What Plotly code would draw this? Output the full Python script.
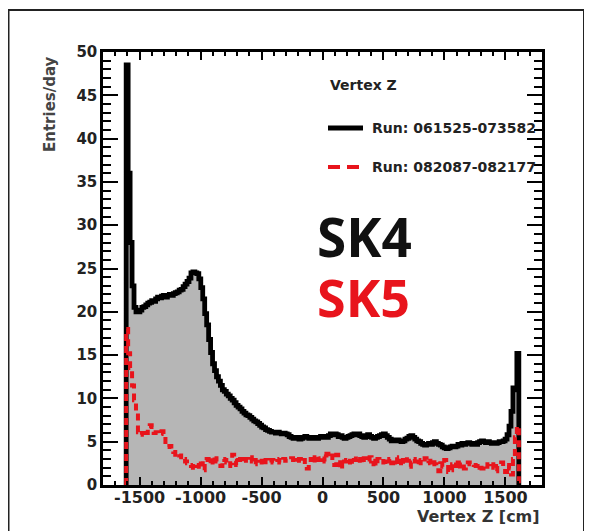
import numpy as np
import plotly.graph_objects as go

# ---------------- data ----------------
Z_MIN = -1610.0
Z_MAX = 1610.0
N_BINS = 200

# SK4 (Run: 061525-073582), entries/day per bin
sk4_values = [
    48.5, 36.0, 28.0, 23.0, 20.5, 20.0, 20.0, 20.2, 20.5, 20.6,
    20.8, 21.0, 21.1, 21.3, 21.2, 21.5, 21.7, 21.6, 21.8, 21.9,
    21.7, 21.9, 22.0, 21.9, 22.1, 22.2, 22.3, 22.5, 22.6, 22.9,
    23.2, 23.5, 23.9, 24.5, 24.6, 24.5, 24.4, 23.8, 22.8, 21.5,
    19.8, 18.5, 16.8, 15.3, 14.0, 13.2, 12.5, 12.0, 11.5, 11.0,
    10.8, 10.5, 10.3, 10.0, 9.8, 9.5, 9.2, 9.0, 8.8, 8.5,
    8.3, 8.1, 8.0, 7.8, 7.6, 7.4, 7.3, 7.1, 6.9, 6.7,
    6.6, 6.4, 6.3, 6.2, 6.1, 6.1, 6.0, 6.1, 6.0, 5.9,
    6.0, 5.9, 5.8, 5.6, 5.5, 5.4, 5.4, 5.5, 5.3, 5.4,
    5.5, 5.6, 5.5, 5.4, 5.5, 5.4, 5.5, 5.4, 5.5, 5.6,
    5.5, 5.6, 5.5, 5.7, 5.9, 5.8, 5.9, 5.8, 5.6, 5.7,
    5.5, 5.4, 5.5, 5.6, 5.7, 5.8, 5.9, 5.8, 5.9, 5.7,
    5.6, 5.5, 5.7, 5.8, 5.6, 5.5, 5.4, 5.5, 5.6, 5.7,
    5.8, 5.9, 5.7, 5.5, 5.3, 5.1, 5.2, 5.1, 5.2, 5.1,
    5.0, 5.1, 5.3, 5.4, 5.6, 5.7, 5.5, 5.3, 5.1, 5.0,
    4.8, 4.7, 4.6, 4.7, 4.8, 4.7, 4.9, 5.0, 4.8, 4.7,
    4.6, 4.4, 4.3, 4.2, 4.3, 4.4, 4.5, 4.4, 4.5, 4.7,
    4.6, 4.8, 4.7, 4.8, 4.9, 4.8, 4.7, 4.8, 4.7, 4.9,
    5.0, 5.1, 5.0, 4.9, 5.0, 4.9, 4.8, 4.9, 4.8, 4.9,
    5.0, 5.0, 5.1, 5.3, 5.8, 6.8, 8.5, 11.2, 11.0, 15.2,
]

# SK5 (Run: 082087-082177), entries/day per bin
sk5_values = [
    18.0, 15.2, 13.5, 11.5, 9.8, 8.3, 6.1, 5.8, 6.0, 5.6,
    6.0, 6.8, 6.9, 6.7, 6.0, 6.1, 5.9, 6.0, 6.2, 5.9,
    4.6, 4.4, 4.5, 4.0, 3.8, 3.5, 3.7, 3.4, 2.9, 3.0,
    2.7, 2.5, 2.3, 2.2, 2.0, 1.8, 2.1, 2.8, 2.5, 1.7,
    2.9, 3.0, 2.4, 2.6, 3.3, 3.1, 2.7, 2.5, 2.2, 3.0,
    2.9, 2.6, 2.2, 2.5, 3.5, 2.8, 2.3, 2.9, 3.0, 2.6,
    2.8, 3.0, 2.9, 3.2, 2.7, 2.4, 2.9, 3.1, 2.8, 2.6,
    2.3, 2.9, 2.7, 2.6, 2.9, 2.8, 3.0, 2.9, 2.6, 2.7,
    3.0, 2.8, 2.8, 2.9, 3.1, 2.9, 2.6, 2.8, 3.0, 2.7,
    2.9, 2.3, 1.9, 2.4, 3.0, 2.5, 3.2, 3.4, 2.9, 3.1,
    3.3, 2.7, 3.6, 3.2, 3.4, 2.6, 2.3, 3.5, 2.9, 1.8,
    3.0, 2.7, 2.9, 3.1, 2.6, 2.4, 2.9, 3.3, 3.0, 2.8,
    2.5, 3.1, 2.9, 2.7, 3.2, 2.8, 2.4, 2.2, 3.0, 2.9,
    3.0, 2.6, 2.3, 2.7, 3.0, 2.5, 2.6, 3.2, 2.4, 2.8,
    2.2, 2.9, 3.3, 2.8, 2.1, 2.6, 3.0, 2.7, 2.3, 2.5,
    2.9, 2.7, 3.1, 2.5, 2.6, 2.8, 3.0, 2.4, 2.0, 1.6,
    2.5, 2.1, 2.9, 2.3, 1.5, 1.7, 2.4, 2.6, 2.2, 1.8,
    2.6, 2.4, 1.9, 2.4, 2.6, 2.4, 2.5, 2.3, 2.2, 2.5,
    2.0, 1.9, 2.2, 2.1, 2.4, 2.6, 2.4, 2.0, 1.6, 2.2,
    2.4, 2.6, 2.1, 1.5, 2.3, 1.9, 1.2, 3.0, 5.5, 6.8,
]

x_tick_vals = [-1500, -1000, -500, 0, 500, 1000, 1500]
y_tick_vals = [0, 5, 10, 15, 20, 25, 30, 35, 40, 45, 50]

legend_title = "Vertex Z"
sk4_label = "Run: 061525-073582"
sk5_label = "Run: 082087-082177"

# ---------------- geometry helpers ----------------
edges = np.linspace(Z_MIN, Z_MAX, N_BINS + 1)


def step_xy(values):
    xs = [edges[0]] + list(edges) + [edges[-1]]
    ys = [0.0] + list(values) + [values[-1], 0.0]
    return xs, ys


# the page body has an 8px margin, so the figure starts at (8, 8) in the window
OFF = 8
W, H = 592 - OFF, 531 - OFF
L, R, T, B = 103 - OFF, 542 - OFF, 52 - OFF, 485 - OFF  # plot area in figure pixels


def px(xwin):
    return (xwin - OFF - L) / (R - L)


def py(ywin):
    return (B - (ywin - OFF)) / (B - T)


sk4_x, sk4_y = step_xy(sk4_values)
sk5_x, sk5_y = step_xy(sk5_values)

fig = go.Figure()
fig.add_trace(go.Scatter(
    x=sk4_x, y=sk4_y, mode="lines", line_shape="hv",
    line=dict(color="#000000", width=4.8),
    fill="tozeroy", fillcolor="#b6b6b6",
    name=sk4_label, showlegend=False, hoverinfo="skip",
))
fig.add_trace(go.Scatter(
    x=sk5_x, y=sk5_y, mode="lines", line_shape="hv",
    line=dict(color="#e8141c", width=4, dash="7px,5px"),
    name=sk5_label, showlegend=False, hoverinfo="skip",
))

xtickfont = dict(family="DejaVu Sans", size=16, color="#222222", weight="bold")
ytickfont = dict(family="DejaVu Sans", size=15, color="#222222", weight="bold")

fig.update_xaxes(
    range=[-1800, 1800], tickvals=x_tick_vals, ticktext=[str(v) for v in x_tick_vals],
    ticks="inside", ticklen=8, tickwidth=1.8, tickcolor="#000",
    minor=dict(dtick=100, tick0=0, ticks="inside", ticklen=4, tickwidth=1.5, tickcolor="#000"),
    showline=True, linecolor="#000", linewidth=2.5, mirror="ticks",
    showgrid=False, zeroline=False, tickfont=xtickfont, ticklabelstandoff=-4,
)
fig.update_yaxes(
    range=[0, 50], tickvals=y_tick_vals, ticktext=[str(v) for v in y_tick_vals],
    ticks="inside", ticklen=15, tickwidth=1.8, tickcolor="#000",
    minor=dict(dtick=1, tick0=0, ticks="inside", ticklen=8, tickwidth=1.5, tickcolor="#000"),
    showline=True, linecolor="#000", linewidth=2.5, mirror="ticks",
    showgrid=False, zeroline=False, tickfont=ytickfont,
)

annotations = [
    dict(text="Entries/day", x=px(50), y=py(54), xref="paper", yref="paper",
         xanchor="center", yanchor="top", textangle=-90, showarrow=False,
         font=dict(family="DejaVu Sans", size=15, color="#444444", weight="bold")),
    dict(text="Vertex Z [cm]", x=px(542), y=py(516), xref="paper", yref="paper",
         xanchor="right", yanchor="middle", showarrow=False,
         font=dict(family="DejaVu Sans", size=16, color="#333333", weight="bold")),
    dict(text=legend_title, x=px(328), y=py(85), xref="paper", yref="paper",
         xanchor="left", yanchor="middle", showarrow=False,
         font=dict(family="DejaVu Sans", size=14, color="#222222", weight="bold")),
    dict(text=sk4_label, x=px(370), y=py(128), xref="paper", yref="paper",
         xanchor="left", yanchor="middle", showarrow=False,
         font=dict(family="DejaVu Sans", size=14, color="#222222", weight="bold")),
    dict(text=sk5_label, x=px(370), y=py(167), xref="paper", yref="paper",
         xanchor="left", yanchor="middle", showarrow=False,
         font=dict(family="DejaVu Sans", size=14, color="#222222", weight="bold")),
    dict(text="SK4", x=px(315), y=py(236), xref="paper", yref="paper",
         xanchor="left", yanchor="middle", showarrow=False,
         font=dict(family="Open Sans", size=53, color="#111111", weight="bold")),
    dict(text="SK5", x=px(315), y=py(296), xref="paper", yref="paper",
         xanchor="left", yanchor="middle", showarrow=False,
         font=dict(family="Open Sans", size=52, color="#e8141c", weight="bold")),
]

shapes = [
    # outer frame
    dict(type="rect", xref="paper", yref="paper",
         x0=px(8.5), x1=px(584), y0=py(545), y1=py(10),
         line=dict(color="#222222", width=2), fillcolor="rgba(0,0,0,0)", layer="below"),
    # legend samples
    dict(type="line", xref="paper", yref="paper",
         x0=px(328), x1=px(363), y0=py(128), y1=py(128),
         line=dict(color="#000000", width=5)),
    dict(type="line", xref="paper", yref="paper",
         x0=px(328), x1=px(340), y0=py(167), y1=py(167),
         line=dict(color="#e8141c", width=4)),
    dict(type="line", xref="paper", yref="paper",
         x0=px(347), x1=px(359), y0=py(167), y1=py(167),
         line=dict(color="#e8141c", width=4)),
]

fig.update_layout(
    width=W, height=H,
    margin=dict(l=L, r=W - R, t=T, b=H - B, pad=0),
    paper_bgcolor="#ffffff", plot_bgcolor="#ffffff",
    showlegend=False,
    annotations=annotations, shapes=shapes,
)

fig.write_html("out.html")
